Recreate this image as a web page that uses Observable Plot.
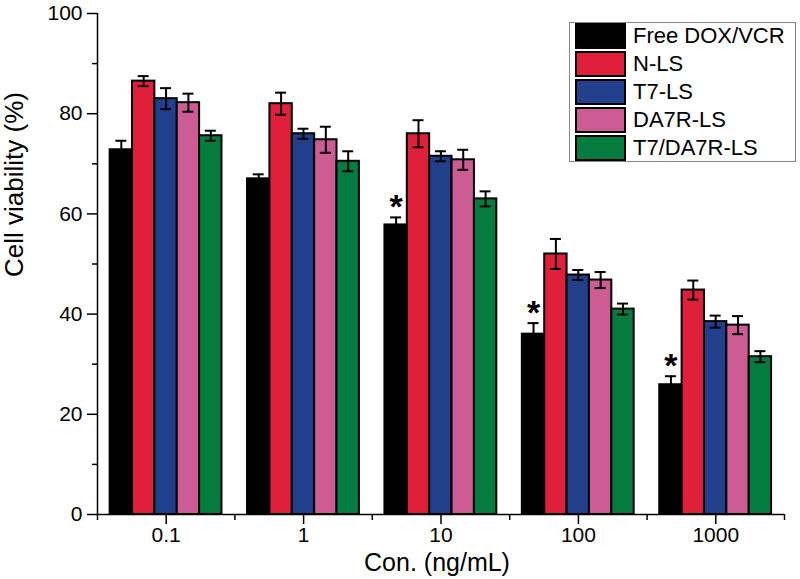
<!DOCTYPE html>
<html><head><meta charset="utf-8">
<script src="https://cdn.jsdelivr.net/npm/d3@7"></script>
<script src="https://cdn.jsdelivr.net/npm/@observablehq/plot@0.6"></script>
<style>
body{margin:0;background:#fff;font-family:Arial,"Liberation Sans",sans-serif;}
#wrap{position:relative;width:800px;height:579px;}
#legend{position:absolute;left:569px;top:22px;width:227px;height:140px;border:1px solid #888;box-sizing:border-box;background:#fff;}
.row{position:absolute;left:5px;height:26px;display:flex;align-items:center}
.sw{width:51px;height:26px;border:2px solid #000;box-sizing:border-box;}
.lab{margin-left:7px;font-size:22px;color:#000;white-space:nowrap;line-height:26px}
</style></head><body><div id="wrap"><div id="legend"></div></div>
<script>
const concentrations = ["0.1", "1", "10", "100", "1000"];
const series = ["Free DOX/VCR", "N-LS", "T7-LS", "DA7R-LS", "T7/DA7R-LS"];
const colors = ["#000000", "#e0203a", "#223f8b", "#cd5c94", "#047c40"];

const freeMean  = [72.8, 67.0, 57.8, 36.0, 25.9];
const nlsMean   = [86.5, 82.0, 76.0, 52.0, 44.8];
const t7Mean    = [83.0, 76.0, 71.5, 47.8, 38.5];
const da7rMean  = [82.2, 74.8, 70.8, 46.8, 37.8];
const dualMean  = [75.6, 70.5, 63.0, 41.0, 31.5];

const freeErr = [1.8, 0.9, 1.5, 2.2, 1.7];
const nlsErr  = [1.0, 2.2, 2.7, 3.0, 1.9];
const t7Err   = [2.1, 1.0, 1.0, 1.0, 1.2];
const da7rErr = [1.8, 2.6, 2.0, 1.6, 1.8];
const dualErr = [1.0, 2.0, 1.5, 1.1, 1.1];

const significant = ["10", "100", "1000"];
const yTicks = [0, 20, 40, 60, 80, 100];
const yMinor = [10, 30, 50, 70, 90];
const xLabel = "Con. (ng/mL)";
const yLabel = "Cell viability (%)";

const means = [freeMean, nlsMean, t7Mean, da7rMean, dualMean];
const errs = [freeErr, nlsErr, t7Err, da7rErr, dualErr];
const rows = [];
series.forEach((s, j) => concentrations.forEach((c, i) =>
  rows.push({series: s, conc: c, gi: i, value: means[j][i], err: errs[j][i]})));

const inner = d3.scaleBand().domain(series).range([0.092, 0.906]);
const left = d => d.gi + inner(d.series);
const right = d => left(d) + inner.bandwidth();
const mid = d => left(d) + inner.bandwidth() / 2;
const capHalf = 0.04;
const sig = rows.filter(d => d.series === series[0] && significant.includes(d.conc));
const groupCenters = concentrations.map((c, i) => i + 0.5);
const groupEdges = d3.range(concentrations.length + 1);

const chart = Plot.plot({
  width: 800, height: 579,
  marginLeft: 97, marginRight: 16, marginTop: 13, marginBottom: 65,
  x: {domain: [0, concentrations.length]},
  y: {domain: [0, 100]},
  color: {domain: series, range: colors},
  style: {fontFamily: "Arial, 'Liberation Sans', sans-serif", fontSize: "21px", color: "#000", background: "transparent"},
  marks: [
    Plot.rectY(rows, {x1: left, x2: right, y1: 0, y2: "value", fill: "series", stroke: "#000", strokeWidth: 2}),
    Plot.ruleX(rows, {x: mid, y1: d => d.value - d.err, y2: d => d.value + d.err, stroke: "#000", strokeWidth: 2}),
    Plot.ruleY(rows, {y: d => d.value + d.err, x1: d => mid(d) - capHalf, x2: d => mid(d) + capHalf, stroke: "#000", strokeWidth: 2}),
    Plot.ruleY(rows, {y: d => d.value - d.err, x1: d => mid(d) - capHalf, x2: d => mid(d) + capHalf, stroke: "#000", strokeWidth: 2}),
    Plot.text(sig, {x: mid, y: d => d.value + d.err, text: () => "*", fontSize: 34, fontWeight: "bold", dy: -10, lineAnchor: "middle", fill: "#000"}),
    Plot.ruleY([0], {stroke: "#000", strokeWidth: 1.5}),
    Plot.ruleX([0], {stroke: "#000", strokeWidth: 1.5}),
    Plot.axisY({ticks: yTicks, tickSize: 10, tickPadding: 5, fontSize: 21, label: null, strokeWidth: 1.5}),
    Plot.axisY({ticks: yMinor, tickSize: 5, tickFormat: () => "", label: null, strokeWidth: 1.5}),
    Plot.axisX({ticks: groupCenters, tickFormat: d => concentrations[Math.round(d - 0.5)], tickSize: 10, tickPadding: 3, fontSize: 21, label: null, strokeWidth: 1.5}),
    Plot.axisX({ticks: groupEdges, tickSize: 6, tickFormat: () => "", label: null, strokeWidth: 1.5}),
    Plot.text([xLabel], {frameAnchor: "bottom", text: d => d, dx: -4, dy: 48, fontSize: 25, lineAnchor: "middle", fill: "#000"}),
    Plot.text([yLabel], {frameAnchor: "left", text: d => d, rotate: -90, dx: -83, dy: 13, fontSize: 26, lineAnchor: "middle", fill: "#000"})
  ]
});
document.getElementById("wrap").prepend(chart);

const legend = document.getElementById("legend");
series.forEach((s, j) => {
  const row = document.createElement("div");
  row.className = "row";
  row.style.top = (j * 28) + "px";
  const sw = document.createElement("div");
  sw.className = "sw";
  sw.style.background = colors[j];
  const lab = document.createElement("span");
  lab.className = "lab";
  lab.textContent = s;
  row.appendChild(sw); row.appendChild(lab);
  legend.appendChild(row);
});
</script></body></html>
